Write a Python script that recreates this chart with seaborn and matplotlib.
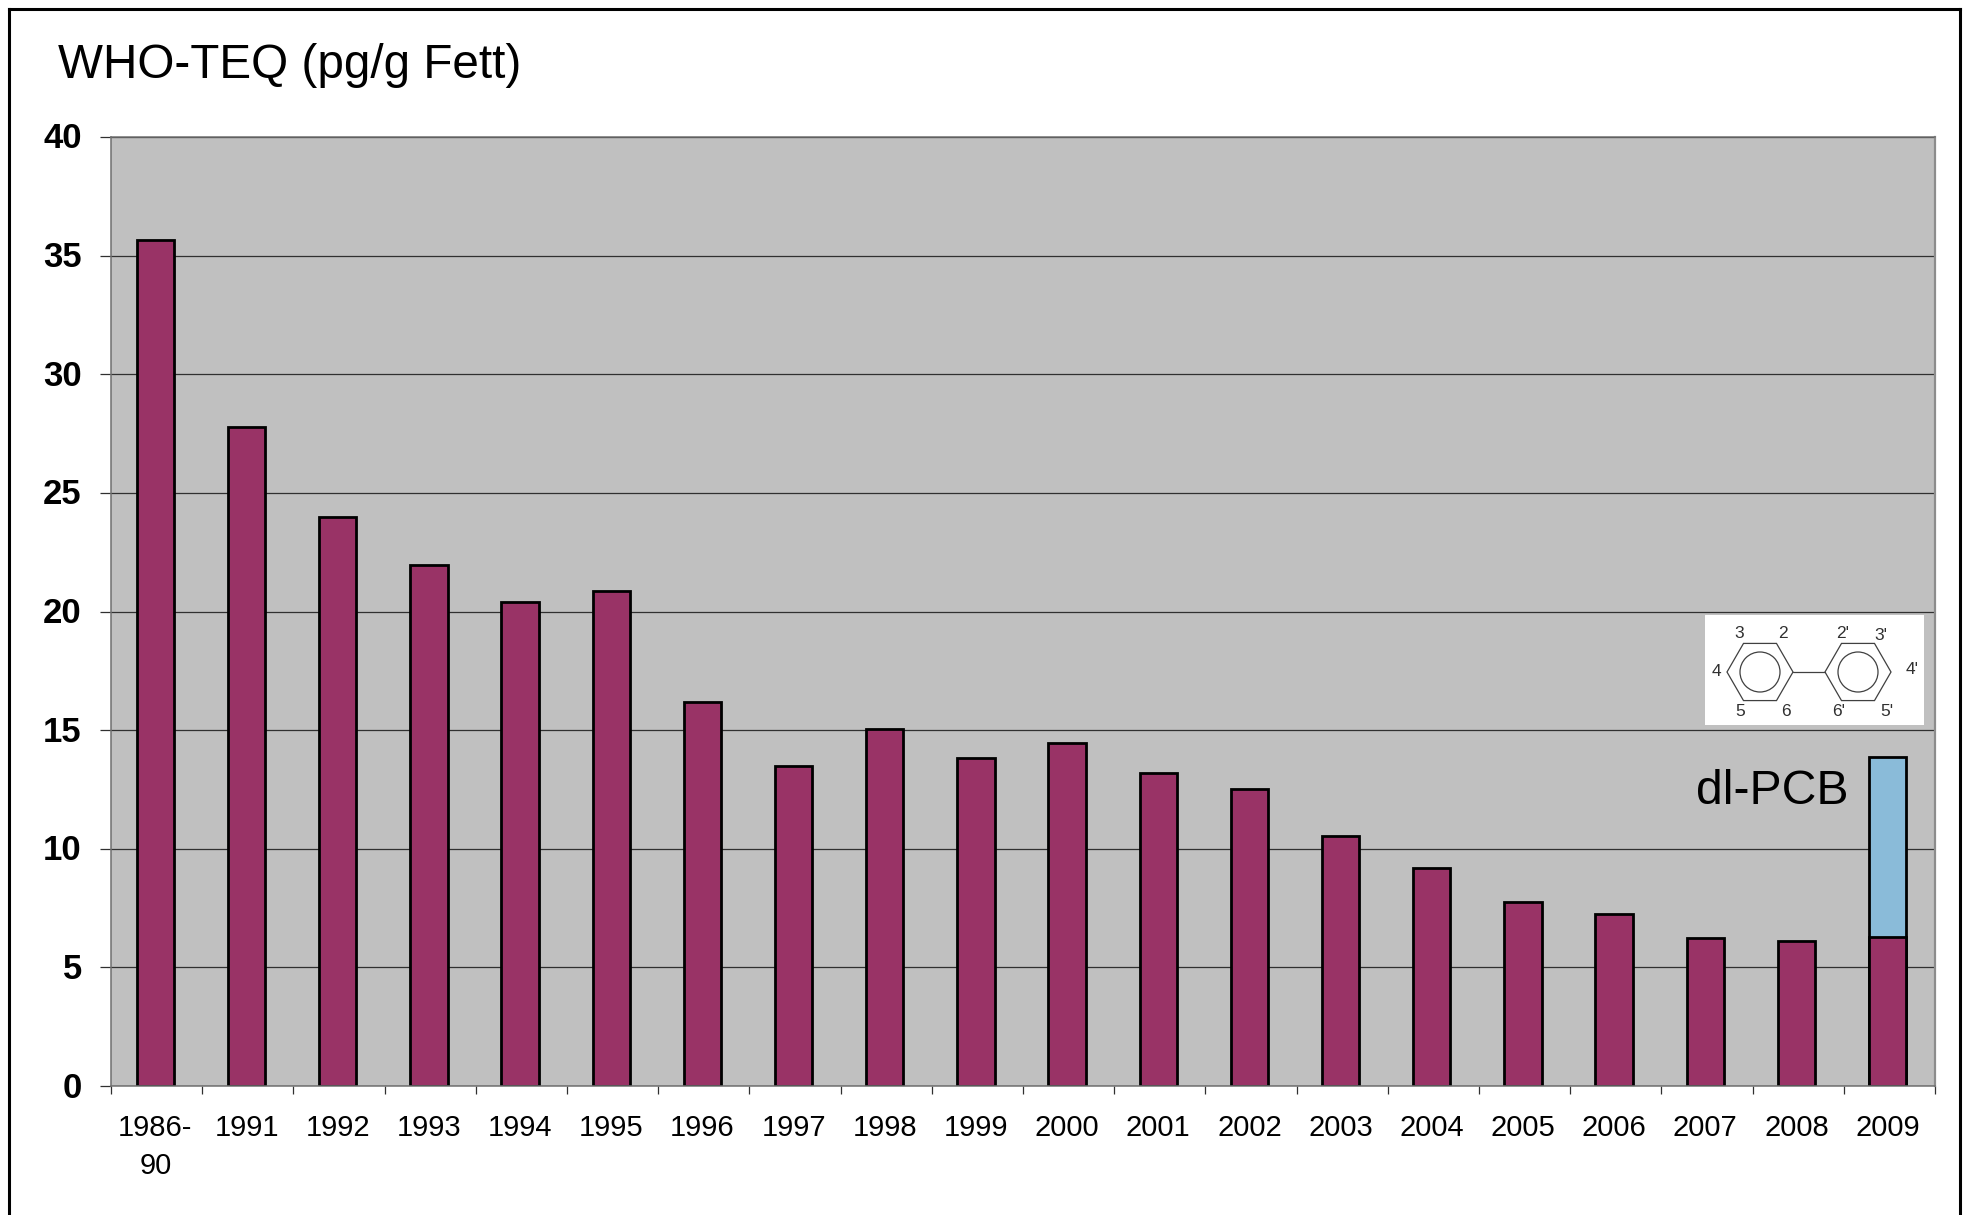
import numpy as np
import pandas as pd
import matplotlib
matplotlib.use("Agg")
import matplotlib.pyplot as plt
from matplotlib.lines import Line2D
from matplotlib.patches import RegularPolygon, Circle
from matplotlib.transforms import ScaledTranslation
import seaborn as sns

years = ["1986-\n90", "1991", "1992", "1993", "1994", "1995", "1996", "1997", "1998", "1999",
         "2000", "2001", "2002", "2003", "2004", "2005", "2006", "2007", "2008", "2009"]
dioxin = [35.67, 27.76, 24.0, 21.95, 20.42, 20.85, 16.2, 13.5, 15.03, 13.83,
          14.46, 13.2, 12.5, 10.55, 9.18, 7.76, 7.23, 6.25, 6.12, 6.28]
with_dlpcb = [np.nan] * 19 + [13.88]
yticks = [0, 5, 10, 15, 20, 25, 30, 35, 40]

W, H = 1963, 1215
sns.set_theme(style="white")
plt.rcParams["font.family"] = ["Liberation Sans", "DejaVu Sans"]
fig = plt.figure(figsize=(W / 100, H / 100), dpi=100, facecolor="white")
L, R, T, B = 111, 1935, 137, 1086
ax = fig.add_axes([L / W, 1 - B / H, (R - L) / W, (B - T) / H], facecolor="#C0C0C0")

df = pd.DataFrame({"year": years, "dioxin": dioxin, "total": with_dlpcb})
ax.set_axisbelow(True)
ax.yaxis.grid(True, color="#303030", lw=0.9)
ax.xaxis.grid(False)
sns.barplot(data=df, x="year", y="total", order=years, color="#8ABBD9", saturation=1, width=0.41,
            edgecolor="black", linewidth=2.0, errorbar=None, ax=ax)
sns.barplot(data=df, x="year", y="dioxin", order=years, color="#993366", saturation=1, width=0.41,
            edgecolor="black", linewidth=2.0, errorbar=None, ax=ax)
ax.set_xlabel("")
ax.set_ylabel("")
xlim = (-0.487, 19.52)
ax.set_xlim(*xlim)
ax.set_ylim(0, 40)

ax.set_yticks(yticks)
ax.set_yticklabels([str(v) for v in yticks], fontsize=25, fontweight="bold", color="black")
ax.tick_params(axis="y", which="major", left=True, length=8, width=0.9, color="#303030", pad=13)
shift_up = ScaledTranslation(0, 1.5 / 100, fig.dpi_scale_trans)
for lab in ax.get_yticklabels():
    lab.set_transform(lab.get_transform() + shift_up)
ax.set_xticks(np.linspace(xlim[0], xlim[1], len(years) + 1))
ax.set_xticklabels([])
ax.set_xticks(np.arange(len(years)), minor=True)
ax.set_xticklabels(years, minor=True, fontsize=21, color="black", linespacing=1.45)
ax.tick_params(axis="x", which="major", bottom=True, length=6, width=0.9, color="#303030")
ax.tick_params(axis="x", which="minor", bottom=False, length=0, pad=20)
for s in ("left", "top", "bottom"):
    ax.spines[s].set_color("#707070")
    ax.spines[s].set_linewidth(1.1)
ax.spines["right"].set_color("#8C8C8C")
ax.spines["right"].set_linewidth(1.6)

fig.text(1848 / W, 1 - 792 / H, "dl-PCB", fontsize=34.7, color="black", ha="right", va="center")
fig.text(58 / W, 1 - 66 / H, "WHO-TEQ (pg/g Fett)", fontsize=34.3, color="black", ha="left", va="center")

# outer frame (open at the bottom edge)
for xs, ys in [((9, 9), (H, 9)), ((9, 1960), (9, 9)), ((1960, 1960), (9, H))]:
    fig.add_artist(Line2D([x / W for x in xs], [1 - y / H for y in ys], color="black", lw=2.2,
                          solid_capstyle="projecting"))

# biphenyl structure inset
BX0, BX1, BY0, BY1 = 1705, 1924, 615, 725
ins = fig.add_axes([BX0 / W, 1 - BY1 / H, (BX1 - BX0) / W, (BY1 - BY0) / H], facecolor="white")
ins.set_xlim(0, BX1 - BX0)
ins.set_ylim(BY1 - BY0, 0)
ins.axis("off")
ins.add_patch(plt.Rectangle((0, 0), BX1 - BX0, BY1 - BY0, color="white", zorder=0))
for cx in (55, 153):
    ins.add_patch(RegularPolygon((cx, 57), 6, radius=33, orientation=np.pi / 6, fill=False,
                                 edgecolor="#404040", lw=0.9))
    ins.add_patch(Circle((cx, 57), 20, fill=False, edgecolor="#404040", lw=0.9))
ins.plot([88, 120], [57, 57], color="#404040", lw=0.9)
atoms = [("3", 34, 19), ("2", 78, 19), ("2'", 138, 19), ("3'", 176, 21), ("4", 11, 57), ("4'", 207, 55),
         ("5", 35, 97), ("6", 81, 97), ("6'", 134, 96), ("5'", 182, 97)]
for s, x, y in atoms:
    ins.text(x, y, s, fontsize=12.5, color="#303030", ha="center", va="center")

fig.savefig("out.png", dpi=100, facecolor="white")
